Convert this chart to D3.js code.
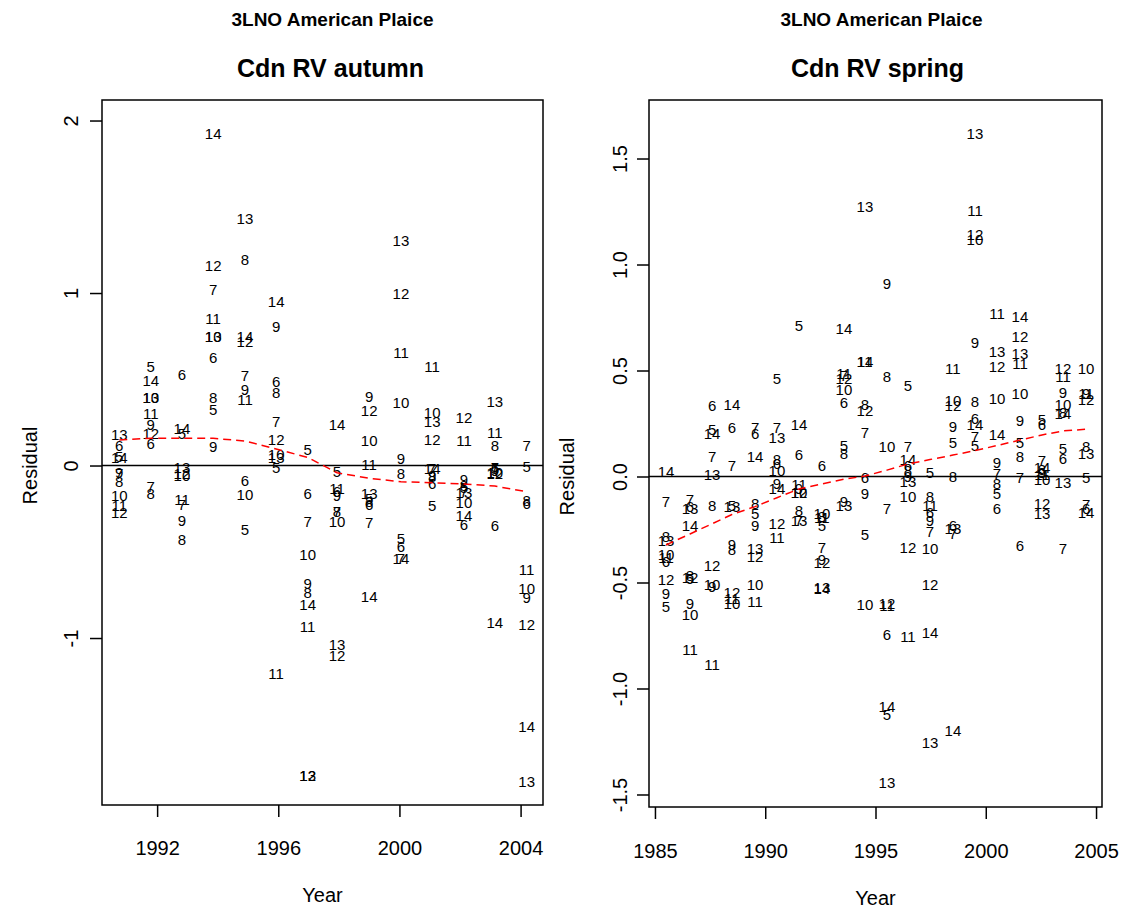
<!DOCTYPE html>
<html>
<head>
<meta charset="utf-8">
<script src="https://cdn.jsdelivr.net/npm/d3@7"></script>
<style>
  body { margin: 0; background: #fff; }
  text { font-family: "Liberation Sans", Arial, sans-serif; fill: #000; }
</style>
</head>
<body>
<div id="chart"></div>
<script>
// ages used as plotting symbols
var ages = [5, 6, 7, 8, 9, 10, 11, 12, 13, 14]

// autumn survey: one row per survey (mean date), residuals for ages 5..14
var autumnYears = [1990.75, 1991.79, 1992.82, 1993.85, 1994.9, 1995.93, 1996.97, 1997.94, 1999.0, 2000.05, 2001.08, 2002.13, 2003.15, 2004.2]
var autumnResid = [
  [0.05, 0.115, -0.05, -0.094, -0.04, -0.177, -0.232, -0.274, 0.177, 0.046],
  [0.573, 0.128, -0.123, -0.165, 0.235, 0.394, 0.302, 0.186, 0.39, 0.49],
  [0.186, 0.525, -0.229, -0.428, -0.322, -0.061, -0.196, -0.05, -0.013, 0.216],
  [0.322, 0.625, 1.017, 0.395, 0.109, 0.747, 0.853, 1.158, 0.745, 1.926],
  [-0.37, -0.09, 0.519, 1.195, 0.438, -0.167, 0.384, 0.717, 1.433, 0.746],
  [-0.013, 0.486, 0.254, 0.422, 0.805, 0.06, -1.205, 0.148, 0.045, 0.95],
  [0.09, -0.161, -0.325, -0.737, -0.683, -0.519, -0.934, -1.80, -1.797, -0.809],
  [-0.036, -0.15, -0.27, -0.267, -0.175, -0.326, -0.136, -1.10, -1.04, 0.235],
  [-0.19, -0.225, -0.332, -0.21, 0.399, 0.144, 0.003, 0.318, -0.161, -0.761],
  [-0.427, -0.47, -0.54, -0.049, 0.042, 0.364, 0.651, 0.998, 1.303, -0.54],
  [-0.236, -0.107, -0.02, -0.065, -0.06, 0.307, 0.574, 0.148, 0.254, -0.017],
  [-0.13, -0.345, -0.15, -0.12, -0.084, -0.213, 0.143, 0.279, -0.155, -0.291],
  [-0.02, -0.349, -0.013, 0.113, -0.03, -0.04, 0.19, -0.05, 0.37, -0.911],
  [-0.01, -0.22, 0.113, -0.205, -0.764, -0.712, -0.606, -0.925, -1.833, -1.514]
]
var autumnSmooth = [0.148, 0.158, 0.158, 0.158, 0.142, 0.096, 0.047, -0.042, -0.074, -0.094, -0.1, -0.107, -0.119, -0.152]

// spring survey
var springYears = [1985.5, 1986.59, 1987.59, 1988.49, 1989.54, 1990.53, 1991.53, 1992.57, 1993.57, 1994.52, 1995.52, 1996.47, 1997.47, 1998.51, 1999.51, 2000.51, 2001.55, 2002.55, 2003.5, 2004.55]
var springResid = [
  [-0.614, -0.40, -0.12, -0.284, -0.554, -0.37, -0.385, -0.485, -0.304, 0.023],
  [-0.48, -0.145, -0.111, -0.47, -0.599, -0.653, -0.816, -0.478, -0.153, -0.232],
  [0.222, 0.333, 0.094, -0.138, -0.52, -0.51, -0.89, -0.421, 0.007, 0.203],
  [-0.137, 0.231, 0.05, -0.345, -0.32, -0.6, -0.575, -0.55, -0.145, 0.337],
  [-0.174, 0.2, 0.228, -0.13, -0.232, -0.512, -0.591, -0.378, -0.343, 0.093],
  [0.463, 0.059, 0.228, 0.078, -0.032, 0.026, -0.289, -0.225, 0.183, -0.059],
  [0.71, 0.101, -0.21, -0.162, -0.06, -0.075, -0.04, -0.078, -0.208, 0.243],
  [-0.233, 0.05, -0.338, -0.19, -0.394, -0.177, -0.196, -0.408, -0.526, -0.53],
  [0.144, 0.348, 0.475, 0.109, -0.119, 0.408, 0.486, 0.462, -0.14, 0.699],
  [-0.276, -0.008, 0.206, 0.337, -0.083, -0.606, 0.54, 0.309, 1.271, 0.54],
  [-1.125, -0.748, -0.154, 0.469, 0.908, 0.141, -0.61, -0.6, -1.443, -1.086],
  [0.427, 0.05, 0.141, 0.025, 0.0, -0.095, -0.755, -0.338, -0.025, 0.078],
  [0.016, -0.173, -0.261, -0.095, -0.21, -0.343, -0.138, -0.512, -1.255, -0.739],
  [0.16, -0.23, -0.27, 0.0, 0.235, 0.356, 0.506, 0.333, -0.245, -1.2],
  [0.144, 0.271, 0.188, 0.353, 0.631, 1.118, 1.252, 1.139, 1.619, 0.243],
  [-0.08, -0.153, 0.012, -0.032, 0.065, 0.369, 0.767, 0.518, 0.589, 0.196],
  [0.157, -0.328, -0.008, 0.093, 0.262, 0.392, 0.531, 0.66, 0.58, 0.754],
  [0.267, 0.243, 0.075, 0.03, 0.02, -0.017, 0.01, -0.129, -0.177, 0.04],
  [0.133, 0.086, -0.343, 0.3, 0.393, 0.338, 0.471, 0.507, -0.029, 0.295],
  [-0.008, -0.15, -0.131, 0.141, 0.39, 0.506, 0.392, 0.363, 0.105, -0.171]
]
var springSmooth = [-0.323, -0.271, -0.223, -0.179, -0.142, -0.1, -0.059, -0.035, -0.013, 0.002, 0.03, 0.059, 0.08, 0.101, 0.122, 0.146, 0.172, 0.196, 0.215, 0.223]

var autumnXTicks = [1992, 1996, 2000, 2004]
var autumnYTicks = [-1, 0, 1, 2]
var springXTicks = [1985, 1990, 1995, 2000, 2005]
var springYTicks = [-1.5, -1.0, -0.5, 0.0, 0.5, 1.0, 1.5]

var svg = d3.select("#chart").append("svg")
  .attr("width", 1127)
  .attr("height", 913)

function drawPanel(p) {
  var x = d3.scaleLinear().domain(p.xDomain).range([p.left, p.right])
  var y = d3.scaleLinear().domain(p.yDomain).range([p.bottom, p.top])
  var g = svg.append("g")
  var cx = (p.left + p.right) / 2

  // titles
  g.append("text").attr("x", cx + p.titleShift[0]).attr("y", 26)
    .attr("text-anchor", "middle").attr("font-size", 19).attr("font-weight", "bold")
    .text("3LNO American Plaice")
  g.append("text").attr("x", cx + p.titleShift[1]).attr("y", 77)
    .attr("text-anchor", "middle").attr("font-size", 25).attr("font-weight", "bold")
    .text(p.title)

  // zero line
  g.append("line")
    .attr("x1", p.left).attr("x2", p.right)
    .attr("y1", y(0)).attr("y2", y(0))
    .attr("stroke", "#000").attr("stroke-width", 1.5)

  // labels as symbols
  p.years.forEach(function(yr, i) {
    ages.forEach(function(a, j) {
      g.append("text")
        .attr("x", x(yr)).attr("y", y(p.resid[i][j]))
        .attr("dy", "0.35em")
        .attr("text-anchor", "middle").attr("font-size", 15)
        .text(a)
    })
  })

  // smoother
  var line = d3.line().x(function(d, i) { return x(p.years[i]) }).y(function(d) { return y(d) })
  g.append("path").datum(p.smooth)
    .attr("d", line)
    .attr("fill", "none").attr("stroke", "#ff0000")
    .attr("stroke-width", 1.5).attr("stroke-dasharray", "8,5")

  // box
  g.append("rect")
    .attr("x", p.left).attr("y", p.top)
    .attr("width", p.right - p.left).attr("height", p.bottom - p.top)
    .attr("fill", "none").attr("stroke", "#000").attr("stroke-width", 1.5)

  // axes
  var xa = g.append("g").attr("transform", "translate(0," + p.bottom + ")")
    .call(d3.axisBottom(x).tickValues(p.xTicks).tickFormat(d3.format("d")).tickSize(12).tickSizeOuter(0))
  xa.select(".domain").remove()
  xa.selectAll("line").attr("stroke", "#000").attr("stroke-width", 1.5)
  xa.selectAll("text").attr("font-size", 20).attr("y", 0).attr("dy", p.xLabelY - p.bottom)
    .attr("font-family", "Liberation Sans, Arial, sans-serif").attr("fill", "#000")

  var ya = g.append("g").attr("transform", "translate(" + p.left + ",0)")
    .call(d3.axisLeft(y).tickValues(p.yTicks).tickFormat(p.yFormat).tickSize(12).tickSizeOuter(0))
  ya.select(".domain").remove()
  ya.selectAll("line").attr("stroke", "#000").attr("stroke-width", 1.5)
  ya.selectAll("text").attr("font-size", 20)
    .attr("font-family", "Liberation Sans, Arial, sans-serif").attr("fill", "#000")
    .attr("x", null).attr("dy", null)
    .attr("text-anchor", "middle")
    .attr("transform", "translate(" + (p.yLabelX - p.left) + ",0) rotate(-90)")

  // axis titles
  g.append("text").attr("x", cx).attr("y", p.yearY)
    .attr("text-anchor", "middle").attr("font-size", 20).text("Year")
  g.append("text")
    .attr("transform", "translate(" + p.residX + "," + y(0) + ") rotate(-90)")
    .attr("text-anchor", "middle").attr("font-size", 20).text("Residual")
}

drawPanel({
  title: "Cdn RV autumn", titleShift: [10, 8],
  years: autumnYears, resid: autumnResid, smooth: autumnSmooth,
  xDomain: [1990.18, 2004.74], yDomain: [-1.968, 2.119],
  left: 102, right: 543, top: 100, bottom: 805,
  xTicks: autumnXTicks, yTicks: autumnYTicks, yFormat: function(d) { return d < 0 ? "-" + Math.abs(d) : d },
  xLabelY: 855, yLabelX: 78, yearY: 902, residX: 37
})

drawPanel({
  title: "Cdn RV spring", titleShift: [6, 2],
  years: springYears, resid: springResid, smooth: springSmooth,
  xDomain: [1984.73, 2005.27], yDomain: [-1.559, 1.776],
  left: 649, right: 1102, top: 100, bottom: 807,
  xTicks: springXTicks, yTicks: springYTicks, yFormat: function(d) { return d < 0 ? "-" + Math.abs(d).toFixed(1) : d.toFixed(1) },
  xLabelY: 858, yLabelX: 627, yearY: 905, residX: 574
})
</script>
</body>
</html>
